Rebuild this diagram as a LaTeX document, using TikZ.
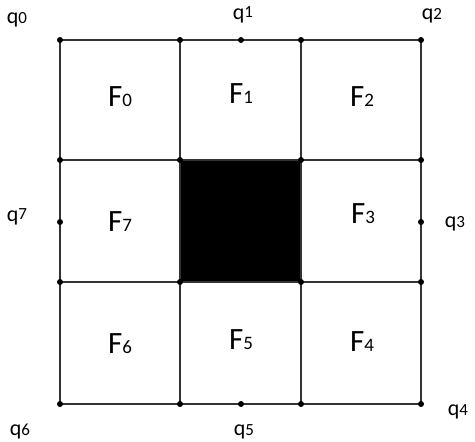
\documentclass[tikz,border=0pt]{standalone}
\usepackage{fontspec}
\setmainfont{Carlito}
\begin{document}
\begin{tikzpicture}[x=1pt,y=-1pt,
  gridline/.style={draw=black!80,line width=1.2pt},
  dotpt/.style={circle,fill=black,inner sep=0pt,minimum size=6pt},
  qlab/.style={font=\fontsize{22}{24}\selectfont,inner sep=0pt},
  flab/.style={font=\fontsize{31}{33}\selectfont,inner sep=0pt}]
\useasboundingbox (0,0) rectangle (475,442);
% grid coordinates
\foreach \c/\x in {0/60,1/180,2/301,3/421}{
  \foreach \r/\y in {0/40,1/160,2/282,3/404}{
    \coordinate (p\c\r) at (\x,\y);
  }
}
\coordinate (m1) at (241,40);
\coordinate (m3) at (421,222);
\coordinate (m5) at (241,404);
\coordinate (m7) at (60,222);
% black centre square
\fill[black] (p11) rectangle (p22);
% grid lines
\foreach \r in {0,1,2,3}{\draw[gridline] (p0\r) -- (p3\r);}
\foreach \c in {0,1,2,3}{\draw[gridline] (p\c0) -- (p\c3);}
% dots
\foreach \c in {0,1,2,3}{\foreach \r in {0,1,2,3}{\node[dotpt] at (p\c\r) {};}}
\foreach \m in {m1,m3,m5,m7}{\node[dotpt] at (\m) {};}
% q labels
\node[qlab] (q0) at (17,20) {q{\fontsize{17}{17}\selectfont 0}};
\node[qlab] (q1) at (243,15) {q\raisebox{2pt}{\fontsize{17}{17}\selectfont 1}};
\node[qlab] (q2) at (432,16) {q{\fontsize{17}{17}\selectfont 2}};
\node[qlab] (q7) at (17,217) {q\raisebox{2pt}{\fontsize{17}{17}\selectfont 7}};
\node[qlab] (q3) at (455,224) {q{\fontsize{17}{17}\selectfont 3}};
\node[qlab] (q6) at (20,432) {q{\fontsize{17}{17}\selectfont 6}};
\node[qlab] (q5) at (244,432) {q{\fontsize{17}{17}\selectfont 5}};
\node[qlab] (q4) at (458,412) {q{\fontsize{17}{17}\selectfont 4}};
% F labels
\node[flab] (F0) at (120,97) {F{\fontsize{19}{19}\selectfont 0}};
\node[flab] (F1) at (241,94) {F{\fontsize{19}{19}\selectfont 1}};
\node[flab] (F2) at (362,97) {F{\fontsize{19}{19}\selectfont 2}};
\node[flab] (F7) at (120,222) {F{\fontsize{19}{19}\selectfont 7}};
\node[flab] (F3) at (363,214) {F{\fontsize{19}{19}\selectfont 3}};
\node[flab] (F6) at (120,344) {F{\fontsize{19}{19}\selectfont 6}};
\node[flab] (F5) at (241,340) {F{\fontsize{19}{19}\selectfont 5}};
\node[flab] (F4) at (362,342) {F{\fontsize{19}{19}\selectfont 4}};
\end{tikzpicture}
\end{document}
